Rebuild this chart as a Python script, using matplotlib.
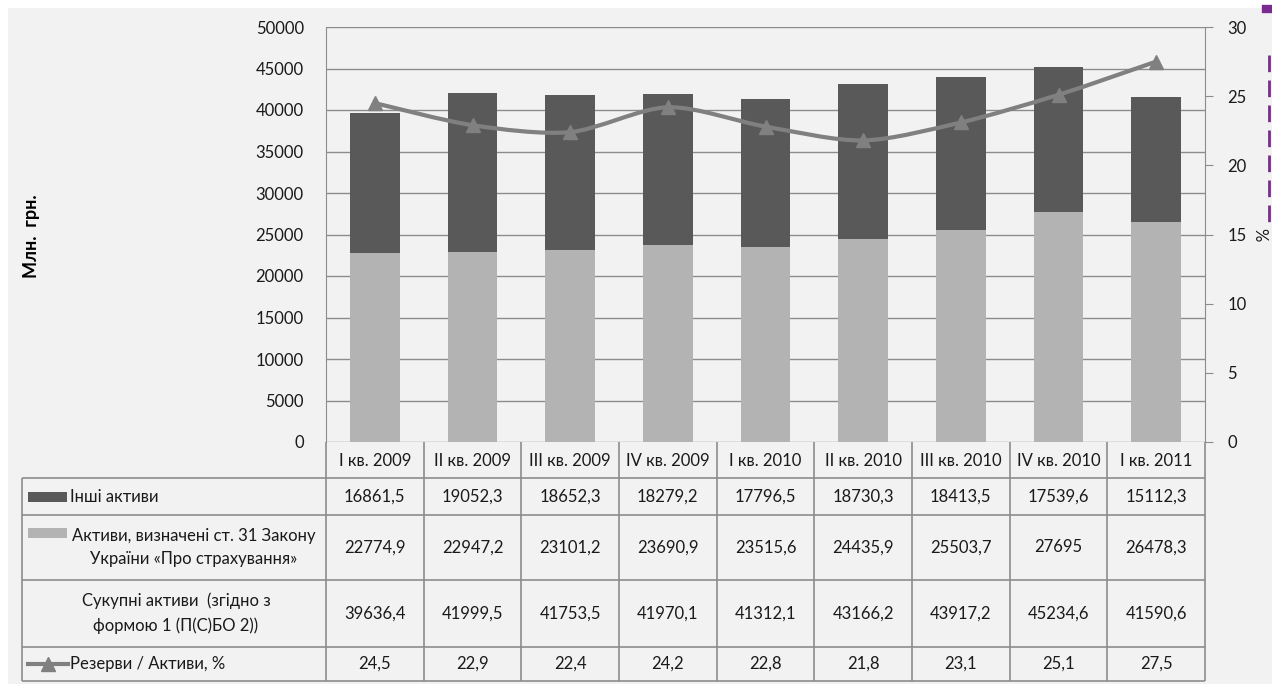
import matplotlib
matplotlib.use("Agg")
import matplotlib.pyplot as plt
import numpy as np
from matplotlib.path import Path
from matplotlib.patches import PathPatch, Rectangle
from matplotlib.lines import Line2D

# ---------------- data ----------------
categories = ["I кв. 2009", "II кв. 2009", "III кв. 2009", "IV кв. 2009", "I кв. 2010",
              "II кв. 2010", "III кв. 2010", "IV кв. 2010", "I кв. 2011"]
other_assets = [16861.5, 19052.3, 18652.3, 18279.2, 17796.5, 18730.3, 18413.5, 17539.6, 15112.3]
art31_assets = [22774.9, 22947.2, 23101.2, 23690.9, 23515.6, 24435.9, 25503.7, 27695, 26478.3]
total_assets = [39636.4, 41999.5, 41753.5, 41970.1, 41312.1, 43166.2, 43917.2, 45234.6, 41590.6]
reserve_ratio = [24.5, 22.9, 22.4, 24.2, 22.8, 21.8, 23.1, 25.1, 27.5]
left_ticks = [0, 5000, 10000, 15000, 20000, 25000, 30000, 35000, 40000, 45000, 50000]
right_ticks = [0, 5, 10, 15, 20, 25, 30]

row_labels = ["Інші активи",
              "Активи, визначені ст. 31 Закону\nУкраїни «Про страхування»",
              "Сукупні активи  (згідно з\nформою 1 (П(С)БО 2))",
              "Резерви / Активи, %"]

# ---------------- style ----------------
FONT = "Lato"
BG = "#f2f2f2"
DARK = "#595959"
LIGHT = "#b3b3b3"
LINEC = "#808080"
GRID = "#8c8c8c"
TXT = "#1a1a1a"

W, H = 1272, 684
fig = plt.figure(figsize=(W / 100, H / 100), dpi=100)
fig.patch.set_facecolor("white")
fig.add_artist(Rectangle((8 / W, 0), 1 - 8 / W, 1 - 8 / H, transform=fig.transFigure,
                         facecolor=BG, edgecolor="none", zorder=-10))

# plot area in pixels
PL, PR, PT, PB = 326, 1205, 27, 442
ax = fig.add_axes([PL / W, 1 - PB / H, (PR - PL) / W, (PB - PT) / H])
ax.set_facecolor("none")
n = len(categories)
x = np.arange(n)
ax.bar(x, art31_assets, width=0.51, color=LIGHT, zorder=3)
ax.bar(x, other_assets, width=0.51, bottom=art31_assets, color=DARK, zorder=3)
ax.set_xlim(-0.5, n - 0.5)
ax.set_ylim(0, 50000)
ax.set_yticks(left_ticks)
ax.set_yticklabels([str(t) for t in left_ticks], fontsize=12, family=FONT, color=TXT)
ax.tick_params(axis="y", length=0, pad=16)
ax.set_xticks([])
ax.grid(axis="y", color=GRID, linewidth=1, zorder=0)
for s in ["top", "bottom", "right"]:
    ax.spines[s].set_visible(False)
ax.spines["left"].set_color(GRID)
ax.set_axisbelow(True)

ax2 = ax.twinx()
ax2.set_ylim(0, 30)
ax2.set_yticks(right_ticks)
ax2.set_yticklabels([str(t) for t in right_ticks], fontsize=12, family=FONT, color=TXT)
ax2.tick_params(axis="y", length=6, color=GRID, pad=10)
for s in ["top", "bottom", "left"]:
    ax2.spines[s].set_visible(False)
ax2.spines["right"].set_color(GRID)

# smoothed line (Catmull-Rom to Bezier) through data points
pts = np.column_stack([x, reserve_ratio]).astype(float)
ext = np.vstack([pts[0], pts, pts[-1]])
verts = [tuple(pts[0])]
codes = [Path.MOVETO]
k = 1 / 7
for i in range(1, len(ext) - 2):
    p0, p1, p2, p3 = ext[i - 1], ext[i], ext[i + 1], ext[i + 2]
    c1 = p1 + (p2 - p0) * k
    c2 = p2 - (p3 - p1) * k
    verts += [tuple(c1), tuple(c2), tuple(p2)]
    codes += [Path.CURVE4] * 3
ax2.add_patch(PathPatch(Path(verts, codes), facecolor="none", edgecolor=LINEC, lw=3, zorder=4))
ax2.plot(x, reserve_ratio, linestyle="none", marker="^", markersize=10, color=LINEC, zorder=5)

fig.text(31 / W, 1 - 236 / H, "Млн.  грн.", rotation=90, ha="center", va="center",
         fontsize=13, fontweight="bold", family=FONT, color="black")
fig.text(1259 / W, 1 - 235 / H, "%", rotation=270, ha="center", va="center",
         fontsize=12, family=FONT, color=TXT)

# purple decoration at right edge
fig.add_artist(Line2D([1269 / W, 1269 / W], [1 - 55 / H, 1 - 225 / H], transform=fig.transFigure,
                      color="#7b2a8f", lw=2, linestyle=(0, (6, 3))))
fig.add_artist(Line2D([1266 / W, 1272 / W], [1 - 9 / H, 1 - 9 / H], transform=fig.transFigure,
                      color="#7b2a8f", lw=6))

# ---------------- table ----------------
tab = fig.add_axes([0, 0, 1, 1])
tab.set_xlim(0, W)
tab.set_ylim(H, 0)
tab.axis("off")
tab.patch.set_visible(False)

col_w = (PR - PL) / n
col_edges = [PL + i * col_w for i in range(n + 1)]
LX0 = 22
row_edges = [PB, 478, 515, 580, 647, 681]

def hline(y, x0, x1):
    tab.plot([x0, x1], [y, y], color=GRID, lw=1.2, solid_capstyle="butt")

def vline(xv, y0, y1):
    tab.plot([xv, xv], [y0, y1], color=GRID, lw=1.2, solid_capstyle="butt")

hline(row_edges[1], LX0, PR)
for yv in row_edges[2:]:
    hline(yv, LX0, PR)
vline(LX0, row_edges[1], row_edges[-1])
for xv in col_edges:
    vline(xv, row_edges[0], row_edges[-1])

for i, c in enumerate(categories):
    tab.text(col_edges[i] + col_w / 2, (row_edges[0] + row_edges[1]) / 2 + 1, c,
             ha="center", va="center", fontsize=12, family=FONT, color=TXT)

rows = [other_assets, art31_assets, total_assets, reserve_ratio]
for r, vals in enumerate(rows):
    yc = (row_edges[r + 1] + row_edges[r + 2]) / 2
    for i, v in enumerate(vals):
        tab.text(col_edges[i] + col_w / 2, yc, f"{v:g}".replace(".", ","),
                 ha="center", va="center", fontsize=12, family=FONT, color=TXT)

# row labels with legend keys
y1 = (row_edges[1] + row_edges[2]) / 2
tab.add_patch(Rectangle((28, y1 - 5), 39, 10, facecolor=DARK, edgecolor="none"))
tab.text(70, y1, row_labels[0], ha="left", va="center", fontsize=12, family=FONT, color=TXT)

y2 = (row_edges[2] + row_edges[3]) / 2
tab.add_patch(Rectangle((28, 528), 39, 10, facecolor=LIGHT, edgecolor="none"))
tab.text(194, y2, row_labels[1], ha="center", va="center", fontsize=12, family=FONT,
         color=TXT, linespacing=1.6, multialignment="center")

y3 = (row_edges[3] + row_edges[4]) / 2
tab.text(176, y3, row_labels[2], ha="center", va="center", fontsize=12, family=FONT,
         color=TXT, linespacing=1.6, multialignment="center")

y4 = (row_edges[4] + row_edges[5]) / 2
tab.plot([28, 68], [y4, y4], color=LINEC, lw=3)
tab.plot([48], [y4], marker="^", markersize=10, color=LINEC, linestyle="none")
tab.text(70, y4, row_labels[3], ha="left", va="center", fontsize=12, family=FONT, color=TXT)

fig.savefig("out.png", dpi=100, facecolor=fig.get_facecolor())
